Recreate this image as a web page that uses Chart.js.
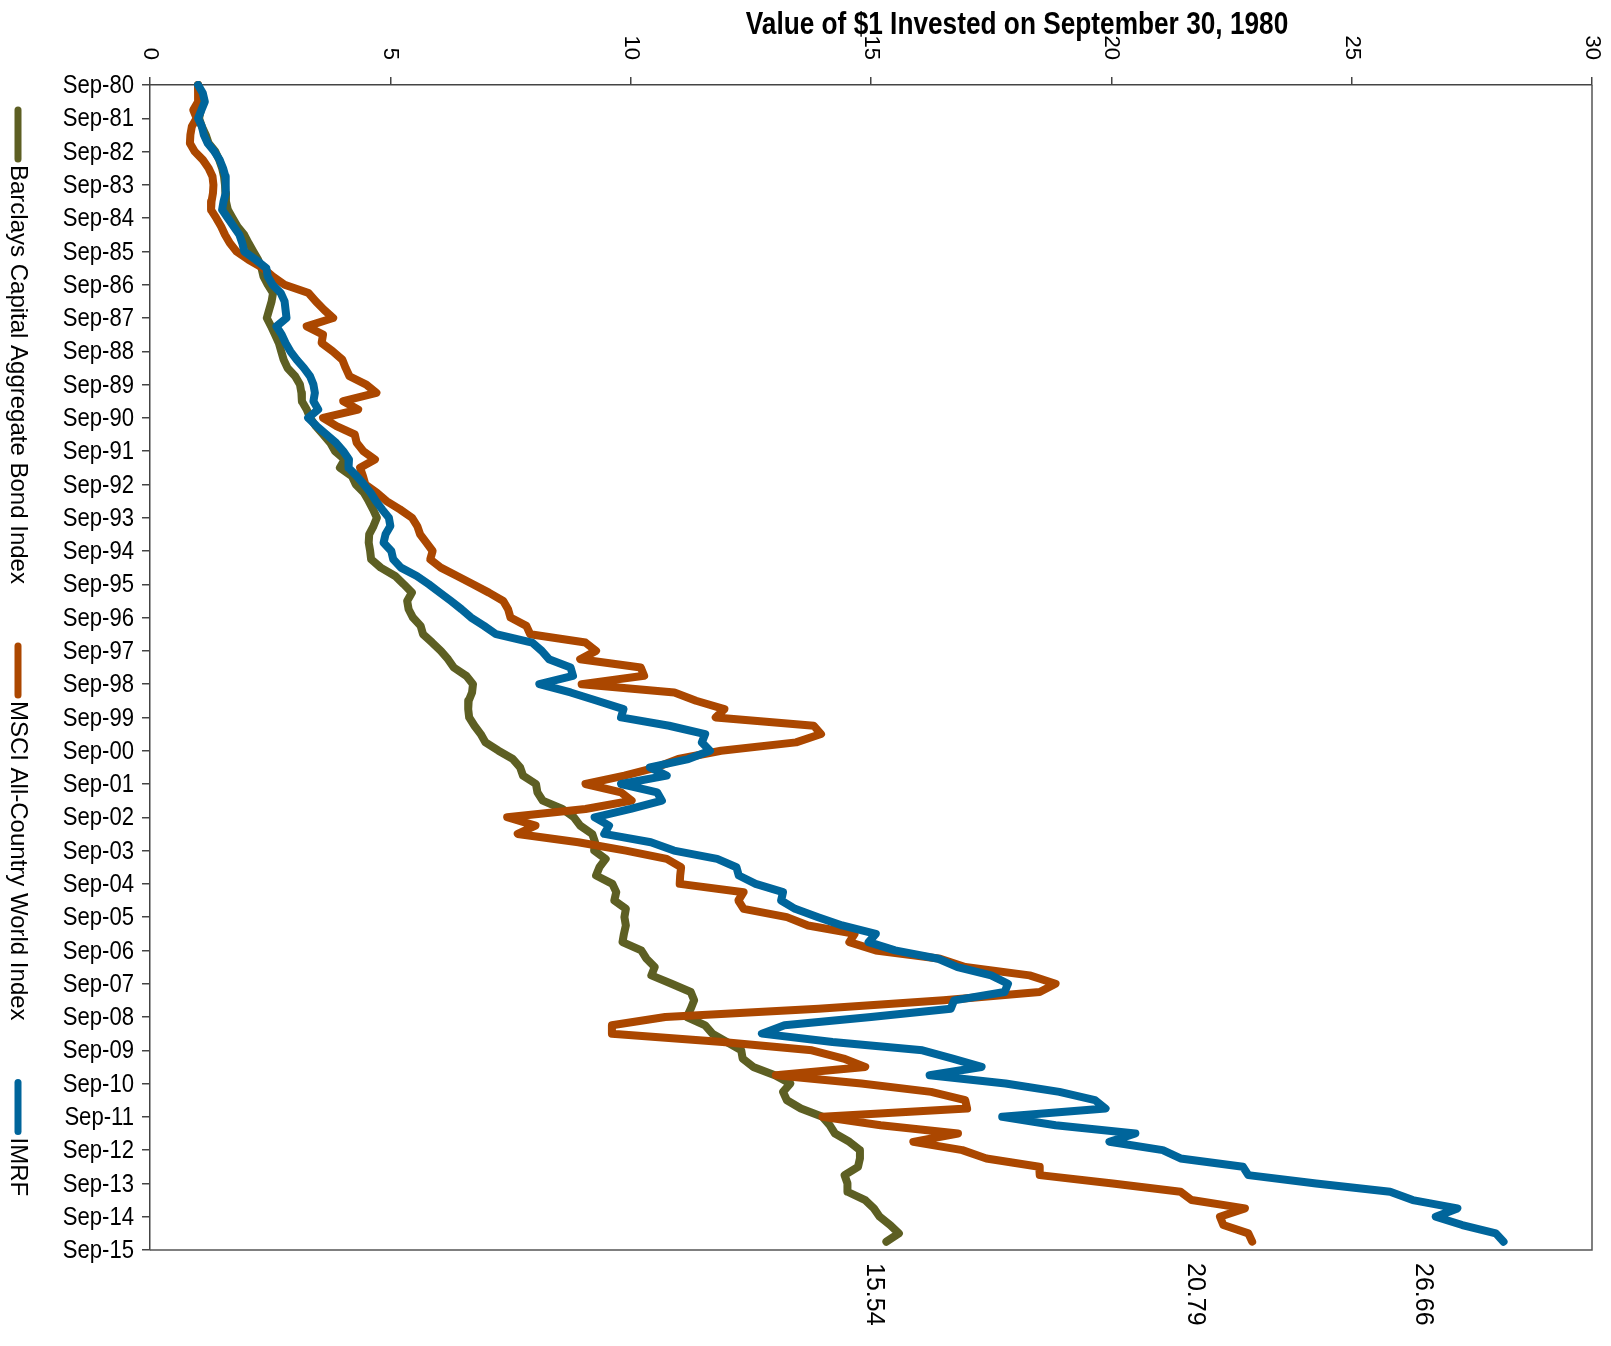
<!DOCTYPE html>
<html>
<head>
<meta charset="utf-8">
<script src="https://cdn.jsdelivr.net/npm/chart.js@4.4.1/dist/chart.umd.min.js"></script>
<style>
  body { margin: 0; background: #fff; }
  #wrap { width: 1611px; height: 1346px; }
</style>
</head>
<body>
<div id="wrap"><canvas id="chart" width="1611" height="1346"></canvas></div>
<script>
const SANS = "'Liberation Sans', Arial, sans-serif";
const NARROW_SCALE = 0.82; // squeeze Liberation Sans to look like Helvetica Narrow

// Quarterly labels Sep-80 .. Sep-15, only the September ones are shown
const quarterNames = ['Sep', 'Dec', 'Mar', 'Jun'];
const categories = [];
for (let i = 0; i <= 140; i++) {
  const yr = (1980 + Math.floor((i + 2) / 4)) % 100;
  categories.push(quarterNames[i % 4] + '-' + String(yr).padStart(2, '0'));
}

const xTicks = [0, 5, 10, 15, 20, 25, 30];

const seriesNames = ['Barclays Capital Aggregate Bond Index', 'MSCI All-Country World Index', 'IMRF'];
const seriesColors = ['#5d5f23', '#ab4700', '#00659b'];

// values, one per quarter from Sep-80
const barclays = [
  1.00, 1.02, 1.04, 1.06, 1.02, 1.08, 1.16, 1.22, 1.36, 1.44, 1.50, 1.54, 1.56, 1.57, 1.58, 1.62,
  1.72, 1.82, 1.96, 2.05, 2.15, 2.25, 2.32, 2.36, 2.45, 2.56, 2.53, 2.48, 2.43, 2.52, 2.60, 2.68,
  2.73, 2.78, 2.86, 3.02, 3.12, 3.15, 3.16, 3.26, 3.33, 3.45, 3.60, 3.75, 3.85, 4.05, 3.95, 4.20,
  4.28, 4.45, 4.55, 4.64, 4.72, 4.65, 4.56, 4.55, 4.58, 4.60, 4.80, 5.10, 5.28, 5.45, 5.35, 5.38,
  5.47, 5.63, 5.68, 5.87, 6.05, 6.20, 6.32, 6.58, 6.72, 6.70, 6.63, 6.62, 6.64, 6.75, 6.88, 6.98,
  7.25, 7.55, 7.70, 7.76, 8.03, 8.06, 8.17, 8.58, 8.82, 8.95, 9.20, 9.26, 9.24, 9.48, 9.35, 9.28,
  9.62, 9.70, 9.66, 9.90, 9.87, 9.90, 9.86, 9.83, 10.22, 10.33, 10.50, 10.43, 10.85, 11.25, 11.32, 11.25,
  11.17, 11.55, 11.70, 12.00, 12.30, 12.33, 12.55, 13.00, 13.32, 13.17, 13.25, 13.54, 13.99, 14.14, 14.25, 14.55,
  14.77, 14.77, 14.73, 14.45, 14.51, 14.51, 14.88, 15.06, 15.18, 15.40, 15.58, 15.32
];

const msci = [
  1.00, 1.00, 1.00, 0.90, 0.97, 0.87, 0.84, 0.83, 0.93, 1.10, 1.22, 1.30, 1.32, 1.31, 1.28, 1.27,
  1.38, 1.48, 1.56, 1.66, 1.80, 2.05, 2.35, 2.55, 2.80, 3.30, 3.45, 3.62, 3.81, 3.26, 3.60, 3.57,
  3.80, 4.00, 4.07, 4.15, 4.50, 4.71, 4.02, 4.33, 3.60, 3.88, 4.26, 4.30, 4.44, 4.68, 4.37, 4.43,
  4.48, 4.72, 4.92, 5.20, 5.45, 5.56, 5.62, 5.75, 5.88, 5.83, 6.05, 6.39, 6.72, 7.05, 7.35, 7.45,
  7.50, 7.83, 7.91, 9.06, 9.28, 8.95, 10.21, 10.28, 8.98, 10.91, 11.36, 11.95, 11.77, 13.81, 13.96, 13.44,
  11.88, 10.99, 10.54, 9.87, 9.06, 9.80, 10.02, 9.06, 7.43, 8.02, 7.65, 8.91, 9.90, 10.75, 11.05, 11.03,
  11.02, 12.35, 12.24, 12.35, 13.25, 13.69, 14.66, 14.55, 15.10, 16.44, 16.96, 18.30, 18.84, 18.51, 16.51, 13.91,
  10.72, 9.61, 9.61, 11.91, 13.77, 14.43, 14.88, 13.02, 14.80, 16.25, 16.96, 17.00, 13.99, 15.20, 16.81, 15.88,
  16.90, 17.40, 18.50, 18.51, 20.03, 21.44, 21.67, 22.78, 22.26, 22.33, 22.85, 22.93
];

const imrf = [
  1.00, 1.10, 1.14, 1.07, 1.00, 1.08, 1.12, 1.20, 1.34, 1.45, 1.52, 1.57, 1.58, 1.57, 1.53, 1.50,
  1.62, 1.74, 1.86, 1.92, 1.96, 2.20, 2.42, 2.45, 2.55, 2.72, 2.80, 2.82, 2.84, 2.63, 2.74, 2.82,
  2.92, 3.05, 3.20, 3.33, 3.40, 3.43, 3.40, 3.50, 3.29, 3.47, 3.67, 3.87, 4.02, 4.14, 4.13, 4.30,
  4.45, 4.59, 4.70, 4.83, 4.97, 5.00, 4.90, 4.86, 5.02, 5.06, 5.22, 5.55, 5.80, 6.03, 6.26, 6.48,
  6.68, 6.95, 7.20, 7.95, 8.15, 8.30, 8.75, 8.80, 8.10, 8.75, 9.30, 9.85, 9.80, 10.80, 11.55, 11.48,
  11.65, 11.20, 10.40, 10.75, 9.80, 10.55, 10.65, 10.00, 9.25, 9.55, 9.45, 10.42, 10.90, 11.80, 12.20, 12.25,
  12.60, 13.17, 13.13, 13.42, 13.90, 14.40, 15.10, 14.95, 15.50, 16.40, 16.80, 17.50, 17.85, 17.78, 16.73, 16.66,
  15.00, 13.20, 12.73, 14.20, 16.07, 16.70, 17.30, 16.22, 17.80, 18.92, 19.66, 19.88, 17.73, 18.84, 20.50, 19.96,
  21.07, 21.44, 22.74, 22.85, 24.26, 25.80, 26.27, 27.20, 26.75, 27.30, 28.00, 28.16
];

// ending-value labels under the plot and where they sit on the value scale
const endLabels = ['15.54', '20.79', '26.66'];
const endLabelAt = [15.07, 21.73, 26.49];

const title = 'Value of $1 Invested on September 30, 1980';

// text squeezed sideways, anchored at (x, y)
function narrowText(ctx, text, x, y, align, squeeze) {
  ctx.save();
  ctx.translate(x, y);
  ctx.scale(squeeze || NARROW_SCALE, 1);
  ctx.textAlign = align;
  ctx.fillText(text, 0, 0);
  ctx.restore();
}

const decorations = {
  id: 'decorations',
  afterDraw(chart) {
    const ctx = chart.ctx;
    const area = chart.chartArea;
    const xs = chart.scales.x;
    const ys = chart.scales.y;

    // right and bottom frame
    ctx.save();
    ctx.strokeStyle = '#555';
    ctx.lineWidth = 1.5;
    ctx.beginPath();
    ctx.moveTo(area.left, area.bottom);
    ctx.lineTo(area.right, area.bottom);
    ctx.lineTo(area.right, area.top);
    ctx.stroke();
    ctx.restore();

    // title
    ctx.save();
    ctx.fillStyle = '#000';
    ctx.font = 'bold 32px ' + SANS;
    ctx.textBaseline = 'middle';
    narrowText(ctx, title, 1017, 25, 'center');
    ctx.restore();

    // September labels on the left axis
    ctx.save();
    ctx.fillStyle = '#000';
    ctx.font = '26px ' + SANS;
    ctx.textBaseline = 'middle';
    categories.forEach((c, i) => {
      if (i % 4 !== 0) return;
      narrowText(ctx, c, area.left - 16, ys.getPixelForValue(i) + 1, 'right', 0.85);
    });
    ctx.restore();

    // value ticks, turned a quarter clockwise
    xTicks.forEach(v => {
      ctx.save();
      ctx.translate(xs.getPixelForValue(v), 60);
      ctx.rotate(Math.PI / 2);
      ctx.font = '22px ' + SANS;
      ctx.fillStyle = '#000';
      ctx.textAlign = 'right';
      ctx.textBaseline = 'middle';
      ctx.fillText(String(v), 0, 0);
      ctx.restore();
    });

    // ending values
    endLabels.forEach((t, i) => {
      ctx.save();
      ctx.translate(xs.getPixelForValue(endLabelAt[i]), 1263);
      ctx.rotate(Math.PI / 2);
      ctx.font = '25px ' + SANS;
      ctx.fillStyle = '#000';
      ctx.textAlign = 'left';
      ctx.textBaseline = 'middle';
      ctx.fillText(t, 0, 0);
      ctx.restore();
    });

    // legend down the left edge
    let y = 107;
    const lx = 18;
    chart.data.datasets.forEach(ds => {
      ctx.save();
      ctx.strokeStyle = ds.borderColor;
      ctx.lineWidth = 7;
      ctx.lineCap = 'round';
      ctx.beginPath();
      ctx.moveTo(lx, y + 3);
      ctx.lineTo(lx, y + 52);
      ctx.stroke();
      ctx.font = '24px ' + SANS;
      const w = ctx.measureText(ds.label).width;
      ctx.translate(lx, y + 58);
      ctx.rotate(Math.PI / 2);
      ctx.fillStyle = '#000';
      ctx.textAlign = 'left';
      ctx.textBaseline = 'middle';
      ctx.fillText(ds.label, 0, 0);
      ctx.restore();
      y += 58 + w + 59;
    });
  }
};

function makeDataset(i, values, order) {
  return {
    label: seriesNames[i],
    data: values,
    borderColor: seriesColors[i],
    backgroundColor: seriesColors[i],
    borderWidth: 8,
    borderJoinStyle: 'round',
    borderCapStyle: 'round',
    pointRadius: 0,
    tension: 0,
    fill: false,
    order: order
  };
}

const chart = new Chart(document.getElementById('chart'), {
  type: 'line',
  data: {
    labels: categories,
    datasets: [
      makeDataset(0, barclays, 3),
      makeDataset(1, msci, 2),
      makeDataset(2, imrf, 1)
    ]
  },
  options: {
    indexAxis: 'y',
    responsive: false,
    animation: false,
    layout: { padding: { top: 0, left: 0, right: 19, bottom: 96 } },
    plugins: {
      legend: { display: false },
      tooltip: { enabled: false },
      title: { display: false }
    },
    scales: {
      x: {
        type: 'linear',
        position: 'top',
        min: 0,
        max: 30,
        ticks: { stepSize: 5, display: false },
        grid: { drawOnChartArea: false, drawTicks: true, tickLength: 8, color: '#444', lineWidth: 1.5 },
        border: { display: true, color: '#444', width: 1.5 },
        afterFit(scale) { scale.height = 85; }
      },
      y: {
        type: 'category',
        ticks: { autoSkip: false, display: false },
        grid: {
          drawOnChartArea: false,
          drawTicks: true,
          tickLength: 8,
          lineWidth: 1.5,
          color: ctx => (ctx.index % 4 === 0 ? '#444' : 'rgba(0,0,0,0)')
        },
        border: { display: true, color: '#444', width: 1.5 },
        afterFit(scale) { scale.width = 150; }
      }
    }
  },
  plugins: [decorations]
});
</script>
</body>
</html>
